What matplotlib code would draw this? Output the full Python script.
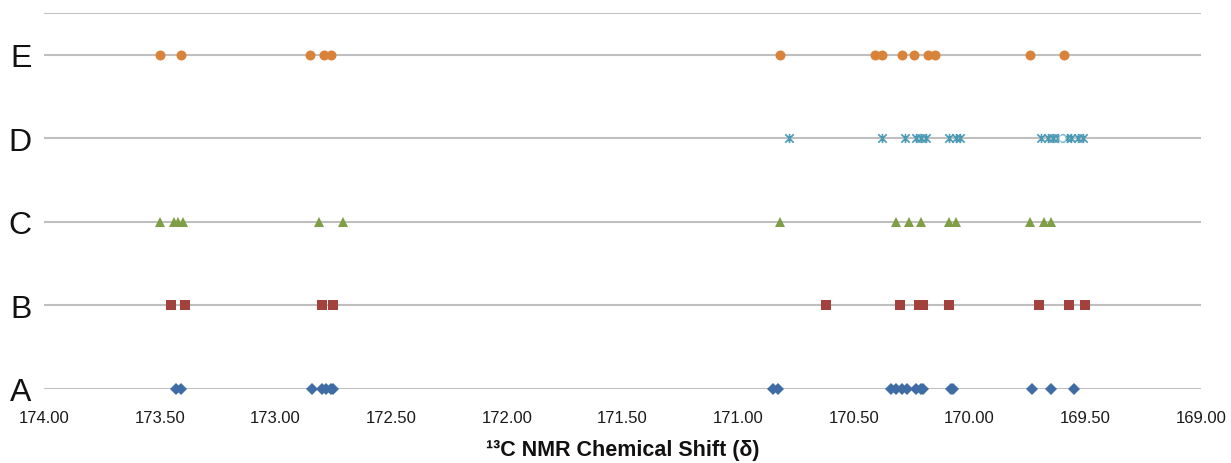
import matplotlib
matplotlib.use("Agg")
import matplotlib.pyplot as plt
from matplotlib.path import Path

plt.rcParams['font.family'] = ['Liberation Sans', 'DejaVu Sans']

categories = ["A", "B", "C", "D", "E"]

shift_A = [173.43, 173.41, 172.84, 172.80, 172.78, 172.76, 172.75,
           170.85, 170.83, 170.34, 170.32, 170.29, 170.27, 170.23, 170.21, 170.20,
           170.08, 170.07, 169.73, 169.65, 169.55]
shift_B = [173.45, 173.39, 172.80, 172.75,
           170.62, 170.30, 170.22, 170.20, 170.09, 169.70, 169.57, 169.50]
shift_C = [173.50, 173.44, 173.42, 173.40, 172.81, 172.71,
           170.82, 170.32, 170.26, 170.21, 170.09, 170.06, 169.74, 169.68, 169.65]
shift_D = [170.78, 170.38, 170.28, 170.23, 170.21, 170.19, 170.09, 170.06, 170.04,
           169.69, 169.66, 169.64, 169.62, 169.58, 169.56, 169.53, 169.51]
shift_D_open = [169.60]
shift_E = [173.50, 173.41, 172.85, 172.79, 172.76,
           170.82, 170.41, 170.38, 170.29, 170.24, 170.18, 170.15, 169.74, 169.59]

x_ticks = [174.00, 173.50, 173.00, 172.50, 172.00, 171.50, 171.00, 170.50, 170.00, 169.50, 169.00]
x_label = "¹³C NMR Chemical Shift (δ)"

c_blue = "#3F6CA5"
c_red = "#A3413D"
c_green = "#7F9F46"
c_cyan = "#4A9AB6"
c_orange = "#D8823A"
grid_c = "#BFBFBF"

star = Path([(-1, -1), (1, 1), (-1, 1), (1, -1), (0, -1.1), (0, 1.1)],
            [Path.MOVETO, Path.LINETO, Path.MOVETO, Path.LINETO, Path.MOVETO, Path.LINETO])

fig = plt.figure(figsize=(12.31, 4.64), dpi=100)
ax = fig.add_axes([44 / 1231, 74 / 464, (1201 - 44) / 1231, (390 - 14) / 464])

ax.set_xlim(174.0, 169.0)
ax.set_ylim(0, 4.5)

for yv in range(len(categories)):
    ax.axhline(yv, color=grid_c, lw=1.5, zorder=1)
ax.axhline(4.5, color=grid_c, lw=1.5, zorder=1)

series = [
    (shift_A, 0, dict(marker='D', ms=5.8, color=c_blue, mew=0)),
    (shift_B, 1, dict(marker='s', ms=6.8, color=c_red, mew=0)),
    (shift_C, 2, dict(marker='^', ms=7.8, color=c_green, mew=0)),
    (shift_D, 3, dict(marker=star, ms=6.6, color=c_cyan, mec=c_cyan, mew=1.2)),
    (shift_E, 4, dict(marker='o', ms=7.2, color=c_orange, mew=0)),
]
for vals, yv, style in series:
    ax.plot(vals, [yv] * len(vals), ls='none', clip_on=False, zorder=3, **style)
ax.plot(shift_D_open, [3] * len(shift_D_open), ls='none', marker='o', ms=5,
        mfc='white', mec='#9FC9D6', mew=0.8, clip_on=False, zorder=4)

for s in ax.spines.values():
    s.set_visible(False)

ax.set_xticks(x_ticks)
ax.set_xticklabels([f"{t:.2f}" for t in x_ticks], fontsize=12, color="#1a1a1a")
ax.set_yticks(range(len(categories)))
ax.set_yticklabels(categories, fontsize=23, color="#111111")
ax.tick_params(axis='x', length=0, pad=15)
ax.tick_params(axis='y', length=0, pad=9)

ax.set_xlabel(x_label, fontsize=15.5, fontweight='bold', labelpad=10, color="#111111")

fig.savefig("out.png", dpi=100)
